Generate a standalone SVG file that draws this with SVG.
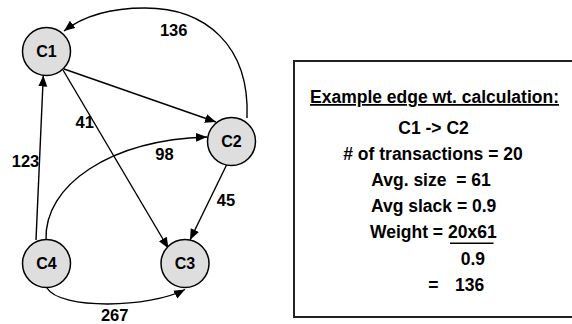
<svg xmlns="http://www.w3.org/2000/svg" width="572" height="324" viewBox="0 0 572 324">
  <style>
    .node circle { fill: #dedede; stroke: #000; stroke-width: 1.5; }
    .node text { font-family: "Liberation Sans", Arial, sans-serif; font-weight: bold; font-size: 16px; text-anchor: middle; fill: #000; }
    .edge { fill: none; stroke: #000; stroke-width: 1.4; marker-end: url(#arrow); }
    .elabel { font-family: "Liberation Sans", Arial, sans-serif; font-weight: bold; font-size: 16.5px; text-anchor: middle; fill: #000; }
    .box text { font-family: "Liberation Sans", Arial, sans-serif; font-weight: bold; font-size: 17.5px; fill: #000; }
  </style>
  <defs>
    <marker id="arrow" markerUnits="userSpaceOnUse" markerWidth="12" markerHeight="10" refX="11" refY="4.5" orient="auto">
      <path d="M0,0 L11,4.5 L0,9 z" fill="#000"/>
    </marker>
  </defs>
  <rect width="572" height="324" fill="#fff"/>

  <g id="connectors">
    <path class="edge" d="M64,69 L216,122"/>
    <path class="edge" d="M63,70 L168.5,248.5"/>
    <path class="edge" d="M247,118 C250,45 205,8 145,8 C110,8 82,17 64,31"/>
    <path class="edge" d="M36,240 L43.3,75.5"/>
    <path class="edge" d="M46,240 C44,185 110,140 207,137"/>
    <path class="edge" d="M228,162 L190,240"/>
    <path class="edge" d="M47,288 C60,310 150,308 185,289.5"/>
    <text class="elabel" x="173.7" y="36">136</text>
    <text class="elabel" x="84.7" y="128.3">41</text>
    <text class="elabel" x="25.5" y="166.7">123</text>
    <text class="elabel" x="164.5" y="160">98</text>
    <text class="elabel" x="226" y="206">45</text>
    <text class="elabel" x="114.7" y="320.5">267</text>
  </g>

  <g id="C1" class="node">
    <circle cx="46.5" cy="51.5" r="24"/>
    <text x="46.5" y="57.3">C1</text>
  </g>
  <g id="C2" class="node">
    <circle cx="231.5" cy="141.5" r="24"/>
    <text x="231.5" y="147.3">C2</text>
  </g>
  <g id="C3" class="node">
    <circle cx="185" cy="263.5" r="24"/>
    <text x="185" y="269.3">C3</text>
  </g>
  <g id="C4" class="node">
    <circle cx="46.5" cy="263.5" r="24"/>
    <text x="46.5" y="269.3">C4</text>
  </g>

  <g id="calc-box" class="box">
    <rect x="294" y="61" width="290" height="256" fill="#fff" stroke="#222" stroke-width="2"/>
    <text x="310" y="103" text-decoration="underline">Example edge wt. calculation:</text>
    <text x="398.3" y="134">C1 -&gt; C2</text>
    <text x="433" y="160" text-anchor="middle"># of transactions = 20</text>
    <text x="431" y="186" text-anchor="middle" xml:space="preserve">Avg. size  = 61</text>
    <text x="371" y="212">Avg slack = 0.9</text>
    <text x="370" y="238">Weight = 20x61</text>
    <line x1="450" y1="243.3" x2="493.5" y2="243.3" stroke="#000" stroke-width="1.6"/>
    <text x="460.7" y="265">0.9</text>
    <text y="291"><tspan x="428.3">=</tspan><tspan x="455">136</tspan></text>
  </g>
</svg>
